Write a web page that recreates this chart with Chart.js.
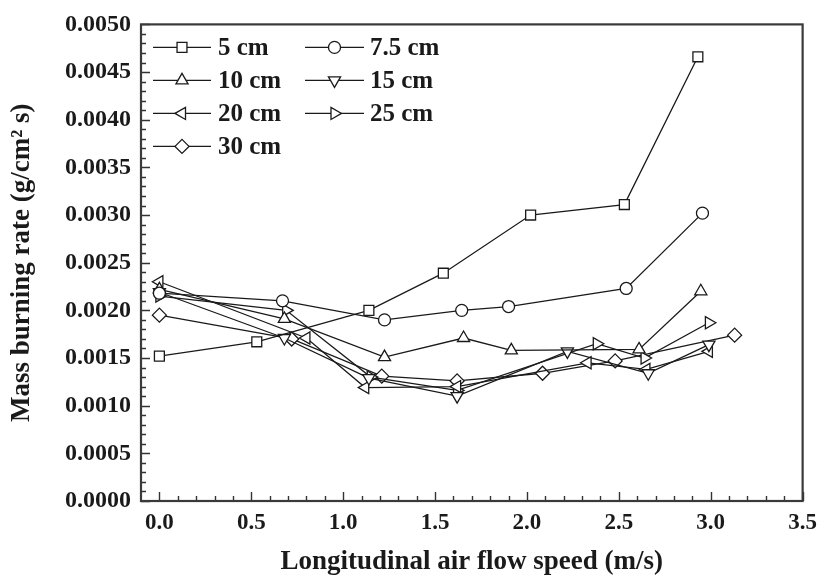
<!DOCTYPE html>
<html>
<head>
<meta charset="utf-8">
<script src="https://cdn.jsdelivr.net/npm/chart.js@4/dist/chart.umd.min.js"></script>
<style>
html,body{margin:0;padding:0;background:#fff;}
#c{display:block;}
</style>
</head>
<body>
<canvas id="c" width="825" height="583"></canvas>
<script>
// ---- data ----
const seriesNames = ['5 cm', '7.5 cm', '10 cm', '15 cm', '20 cm', '25 cm', '30 cm'];

const speed5  = [0, 0.53, 1.14, 1.545, 2.02, 2.53, 2.93];
const rate5   = [0.00152, 0.00167, 0.00200, 0.00239, 0.00300, 0.00311, 0.00466];

const speed7_5 = [0, 0.67, 1.225, 1.645, 1.90, 2.54, 2.955];
const rate7_5  = [0.00218, 0.00210, 0.00190, 0.00200, 0.00204, 0.00223, 0.00302];

const speed10 = [0, 0.68, 1.225, 1.655, 1.915, 2.61, 2.946];
const rate10  = [0.00222, 0.00191, 0.00151, 0.00171, 0.00158, 0.00159, 0.00220];

const speed15 = [0, 0.68, 1.14, 1.62, 2.22, 2.66, 2.99];
const rate15  = [0.00219, 0.00171, 0.00129, 0.00110, 0.00157, 0.00134, 0.00164];

const speed20 = [0, 0.80, 1.12, 1.62, 2.33, 2.65, 2.99];
const rate20  = [0.00230, 0.00171, 0.00119, 0.00120, 0.00145, 0.00138, 0.00157];

const speed25 = [0, 0.69, 1.15, 1.62, 2.38, 2.64, 2.99];
const rate25  = [0.00215, 0.00200, 0.00130, 0.00116, 0.00165, 0.00150, 0.00187];

const speed30 = [0, 0.72, 1.21, 1.62, 2.085, 2.48, 3.13];
const rate30  = [0.00195, 0.00170, 0.00131, 0.00126, 0.00134, 0.00147, 0.00174];

const xTickValues = [0, 0.5, 1.0, 1.5, 2.0, 2.5, 3.0, 3.5];
const yTickValues = [0, 0.0005, 0.001, 0.0015, 0.002, 0.0025, 0.003, 0.0035, 0.004, 0.0045, 0.005];

const xTitle = 'Longitudinal air flow speed (m/s)';
const yTitle = 'Mass burning rate (g/cm\u00B2 s)';

// ---- styling ----
const FONT = "'Liberation Serif', 'DejaVu Serif', serif";
const INK = '#1a1a1a';
const markers = [
  {style: 'rect', rot: 0, r: 7},
  {style: 'circle', rot: 0, r: 6},
  {style: 'triangle', rot: 0, r: 7},
  {style: 'triangle', rot: 180, r: 7},
  {style: 'triangle', rot: 270, r: 7},
  {style: 'triangle', rot: 90, r: 7},
  {style: 'rectRot', rot: 0, r: 7}
];

const allX = [speed5, speed7_5, speed10, speed15, speed20, speed25, speed30];
const allY = [rate5, rate7_5, rate10, rate15, rate20, rate25, rate30];

const datasets = seriesNames.map((name, i) => ({
  label: name,
  data: allX[i].map((x, j) => ({x: x, y: allY[i][j]})),
  showLine: true,
  borderColor: INK,
  borderWidth: 1.3,
  pointStyle: markers[i].style,
  rotation: markers[i].rot,
  pointRadius: markers[i].r,
  pointBackgroundColor: '#fff',
  pointBorderColor: INK,
  pointBorderWidth: 1.3,
  fill: false,
  tension: 0
}));

function drawMarker(ctx, m, x, y) {
  ctx.save();
  ctx.fillStyle = '#fff';
  ctx.strokeStyle = INK;
  ctx.lineWidth = 1.3;
  ctx.beginPath();
  const r = m.r;
  if (m.style === 'rect') {
    const s = Math.SQRT1_2 * r;
    ctx.rect(x - s, y - s, 2 * s, 2 * s);
  } else if (m.style === 'circle') {
    ctx.arc(x, y, r, 0, Math.PI * 2);
  } else if (m.style === 'rectRot') {
    ctx.moveTo(x, y - r); ctx.lineTo(x + r, y); ctx.lineTo(x, y + r); ctx.lineTo(x - r, y); ctx.closePath();
  } else {
    let rad = m.rot * Math.PI / 180;
    for (let k = 0; k < 3; k++) {
      const px = x + Math.sin(rad) * r, py = y - Math.cos(rad) * r;
      if (k === 0) ctx.moveTo(px, py); else ctx.lineTo(px, py);
      rad += 2 * Math.PI / 3;
    }
    ctx.closePath();
  }
  ctx.fill();
  ctx.stroke();
  ctx.restore();
}

const framePlugin = {
  id: 'frameTicks',
  afterDraw(chart) {
    const ctx = chart.ctx;
    const a = chart.chartArea;
    const xs = chart.scales.x, ys = chart.scales.y;
    ctx.save();
    ctx.strokeStyle = '#333';
    ctx.lineWidth = 1.4;
    ctx.beginPath();
    for (let k = 0; k <= 35; k++) {
      const v = k / 10;
      const px = Math.round(xs.getPixelForValue(v)) + 0.5;
      const len = (k % 5 === 0) ? 9 : 5;
      ctx.moveTo(px, a.bottom);
      ctx.lineTo(px, a.bottom - len);
    }
    for (let k = 0; k <= 50; k++) {
      const v = k / 10000;
      const py = Math.round(ys.getPixelForValue(v)) + 0.5;
      const len = (k % 5 === 0) ? 9 : 5;
      ctx.moveTo(a.left, py);
      ctx.lineTo(a.left + len, py);
    }
    ctx.stroke();
    ctx.lineWidth = 2.2;
    ctx.strokeStyle = '#3a3a3a';
    ctx.strokeRect(a.left, a.top, a.right - a.left, a.bottom - a.top);
    ctx.restore();

    // legend inside the plot
    ctx.save();
    ctx.font = 'bold 25px ' + FONT;
    ctx.fillStyle = INK;
    ctx.textBaseline = 'middle';
    ctx.textAlign = 'left';
    const cols = [{x0: a.left + 12, x1: a.left + 70, tx: a.left + 77},
                  {x0: a.left + 164, x1: a.left + 223, tx: a.left + 229}];
    seriesNames.forEach((name, i) => {
      const col = cols[i % 2];
      const row = Math.floor(i / 2);
      const y = a.top + 23 + row * 33;
      ctx.strokeStyle = INK;
      ctx.lineWidth = 1.3;
      ctx.beginPath();
      ctx.moveTo(col.x0, y);
      ctx.lineTo(col.x1, y);
      ctx.stroke();
      drawMarker(ctx, markers[i], (col.x0 + col.x1) / 2, y);
      ctx.fillText(name, col.tx, y + 1);
    });
    ctx.restore();
  }
};

new Chart(document.getElementById('c'), {
  type: 'scatter',
  data: {datasets: datasets},
  options: {
    responsive: false,
    animation: false,
    devicePixelRatio: 1,
    layout: {padding: {top: 20, right: 17, left: 0, bottom: 0}},
    plugins: {legend: {display: false}, tooltip: {enabled: false}},
    scales: {
      x: {
        type: 'linear',
        min: -0.1, max: 3.5,
        afterBuildTicks: s => { s.ticks = xTickValues.map(v => ({value: v})); },
        afterFit: s => { s.height = 82; },
        grid: {display: false, drawTicks: false},
        border: {display: false},
        ticks: {
          callback: v => Number(v).toFixed(1),
          font: {family: FONT, weight: 'bold', size: 23},
          color: INK, padding: 8, maxRotation: 0, autoSkip: false
        },
        title: {
          display: true, text: xTitle, color: INK,
          font: {family: FONT, weight: 'bold', size: 27},
          padding: {top: 0, bottom: 5}
        }
      },
      y: {
        type: 'linear',
        min: 0, max: 0.005,
        afterBuildTicks: s => { s.ticks = yTickValues.map(v => ({value: v})); },
        afterFit: s => { s.width = 141; },
        grid: {display: false, drawTicks: false},
        border: {display: false},
        ticks: {
          callback: v => Number(v).toFixed(4),
          font: {family: FONT, weight: 'bold', size: 24},
          color: INK, padding: 10, autoSkip: false
        },
        title: {
          display: true, text: yTitle, color: INK,
          font: {family: FONT, weight: 'bold', size: 27},
          padding: {top: 6, bottom: 4}
        }
      }
    }
  },
  plugins: [framePlugin]
});
</script>
</body>
</html>
